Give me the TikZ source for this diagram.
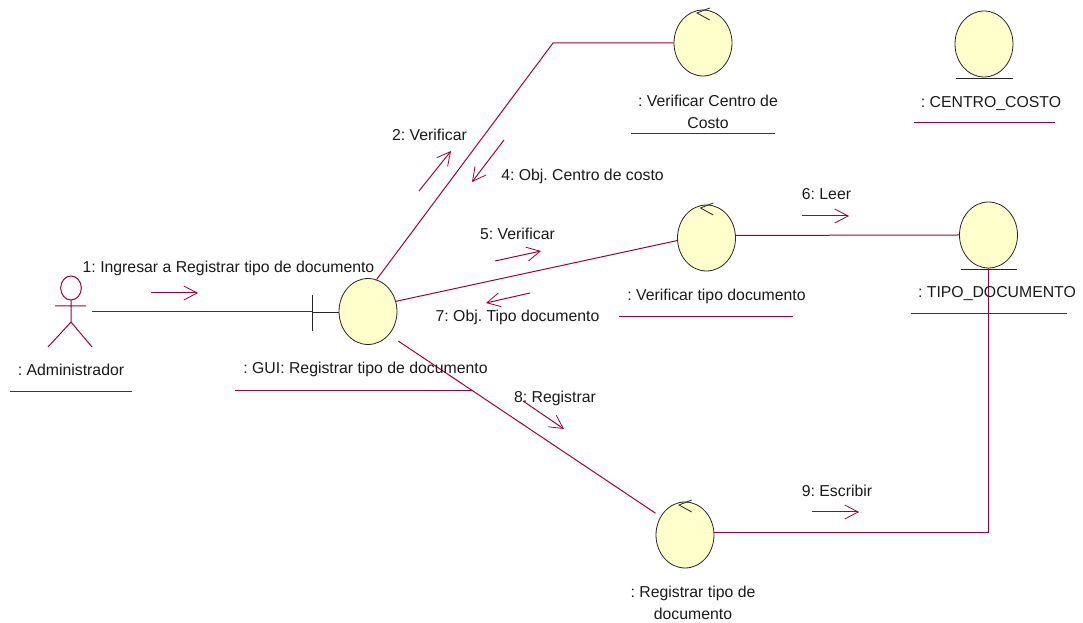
\documentclass[tikz,border=0pt]{standalone}
\usepackage{fontspec}
\setmainfont{Liberation Sans}
\usetikzlibrary{arrows.meta,shapes.geometric}
\definecolor{dred}{HTML}{A50034}
\definecolor{lyellow}{HTML}{FFFFCC}
\definecolor{dtext}{HTML}{1A1A1A}

\begin{document}
\frenchspacing
\begin{tikzpicture}[x=0.75pt,y=-0.75pt,line width=0.75pt,dred,
                    obj/.style={ellipse,draw=black!85,line width=0.6pt,fill=lyellow,
                      minimum width=43.5pt,minimum height=49.5pt,inner sep=0pt},
                    lbl/.style={text=dtext,font=\fontsize{11.85}{16.5}\selectfont,
                      align=center,inner sep=0pt,text height=10.6pt,text depth=2pt},
                    msg/.style={-{Straight Barb[length=10pt,width=10.5pt,line width=0.6pt]}},
                    tick/.style={draw=black!85,line width=0.6pt}]
  \useasboundingbox (0,0) rectangle (1083,623);

  % objects
  \node[obj] (gui) at (368,311.5) {};
  \node[obj] (vcc) at (703,43) {};
  \node[obj] (cc) at (984,44) {};
  \node[obj] (vtd) at (706.5,238) {};
  \node[obj] (td) at (988.5,235) {};
  \node[obj] (rtd) at (685,535) {};

  % actor
  \node[ellipse,draw=dred,inner sep=0pt,minimum width=15.5pt,minimum height=18pt] (admin) at (71,288) {};
  \coordinate (hips) at (71,322);
  \coordinate (lfoot) at (48,347);
  \coordinate (rfoot) at (92,347);
  \coordinate (larm) at (55,306);
  \coordinate (rarm) at (86,306);
  \draw (admin.south) -- (hips) (lfoot) -- (hips) -- (rfoot) (larm) -- (rarm);

  % stereotype marks
  \coordinate (guibar) at (312,312);
  \draw[tick] (312,295) -- (312,331) (guibar) -- (gui.west |- guibar);
  \draw[tick] (956,78.5) -- (1013,78.5);
  \draw[tick] (961,269) -- (1017,269);
  \draw[tick] (709.7,8) -- (697,13) -- (709.7,20);
  \draw[tick] (713.2,203) -- (700.5,208) -- (713.2,215);
  \draw[tick] (691.7,500) -- (679,505) -- (691.7,512);

  % links
  \coordinate (hand) at (92,312);
  \coordinate (bend) at (553,43);
  \draw (hand) -- (guibar);
  \draw (gui.75) -- (bend) -- (vcc.west);
  \draw (gui.20) -- (vtd.185);
  \draw[shorten <=8.5pt,shorten >=4.5pt] (gui.-48) -- (rtd.143);
  \draw (vtd.5) -- (td.west);
  \draw (rtd.5) -| (td.south);

  % messages
  \draw[msg] (151,293) -- (198,293);
  \draw[msg] (419,191) -- (451,151);
  \draw[msg] (504,140) -- (472,182);
  \draw[msg] (495,261) -- (541,251);
  \draw[msg] (530,293) -- (486,303);
  \draw[msg] (802,216) -- (849,216);
  \draw[msg] (523,401) -- (564,429);
  \draw[msg] (812,512) -- (859,512);

  \node[lbl] (m1) at (228.5,267) {1: Ingresar a Registrar tipo de documento};
  \node[lbl] (m2) at (429.5,135) {2: Verificar};
  \node[lbl] (m4) at (582.5,175) {4: Obj. Centro de costo};
  \node[lbl] (m5) at (517.5,234) {5: Verificar};
  \node[lbl] (m7) at (517.5,316) {7: Obj. Tipo documento};
  \node[lbl] (m6) at (826.5,194) {6: Leer};
  \node[lbl] (m8) at (555,397) {8: Registrar};
  \node[lbl] (m9) at (837,491) {9: Escribir};

  % names
  \node[lbl] (tadmin) at (71,370) {: Administrador};
  \node[lbl] (tgui) at (365.5,368) {: GUI: Registrar tipo de documento};
  \node[lbl,anchor=north] (tvcc) at (708,114) {: Verificar Centro de\\Costo};
  \node[lbl] (tcc) at (991,102) {: CENTRO\_COSTO};
  \node[lbl] (tvtd) at (716.5,295) {: Verificar tipo documento};
  \node[lbl] (ttd) at (997,292) {: TIPO\_DOCUMENTO};
  \node[lbl,anchor=north] (trtd) at (693,605) {: Registrar tipo de\\documento};

  \draw (10,392) -- (132,392);
  \draw (235,391) -- (473,391);
  \draw (631,134) -- (775,134);
  \draw (914,123) -- (1055,123);
  \draw (619,317) -- (793,317);
  \draw (911,314) -- (1067,314);
\end{tikzpicture}
\end{document}
